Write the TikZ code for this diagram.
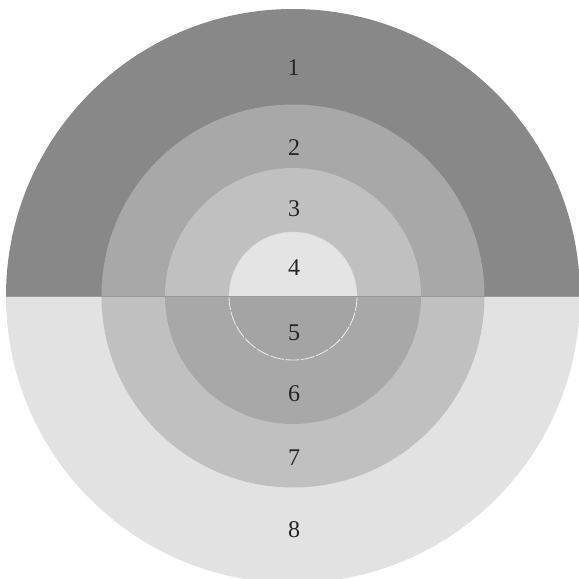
\documentclass[tikz,border=0pt]{standalone}
\usepackage{fontspec}
\setmainfont{Liberation Serif}
\definecolor{gA}{HTML}{888888}
\definecolor{gB}{HTML}{A8A8A8}
\definecolor{gC}{HTML}{C0C0C0}
\definecolor{gD}{HTML}{E4E4E4}
\definecolor{gE}{HTML}{A4A4A4}
\definecolor{gF}{HTML}{A8A8A8}
\definecolor{gG}{HTML}{C0C0C0}
\definecolor{gH}{HTML}{E2E2E2}
\begin{document}
\begin{tikzpicture}[x=1pt,y=-1pt,
  lbl/.style={font=\fontsize{24}{28}\selectfont, inner sep=0pt, text=black!85}]
\useasboundingbox (0,0) rectangle (579,579);
\clip (0,0) rectangle (579,579);
\fill[white] (0,0) rectangle (579,579);
\coordinate (c) at (293,296);
% top half
\fill[gA] (c) ++(-287,0) arc[start angle=180,end angle=360,radius=287] -- cycle;
\fill[gB] (c) ++(-191.5,0) arc[start angle=180,end angle=360,radius=191.5] -- cycle;
\fill[gC] (c) ++(-128,0) arc[start angle=180,end angle=360,radius=128] -- cycle;
\fill[gD] (c) ++(-64,0) arc[start angle=180,end angle=360,radius=64] -- cycle;
% bottom half
\fill[gH] (c) ++(-287,0) arc[start angle=180,end angle=0,radius=287] -- cycle;
\fill[gG] (c) ++(-191.5,0) arc[start angle=180,end angle=0,radius=191.5] -- cycle;
\fill[gF] (c) ++(-128,0) arc[start angle=180,end angle=0,radius=128] -- cycle;
\fill[gE] (c) ++(-64,0) arc[start angle=180,end angle=0,radius=64] -- cycle;
\draw[white!85!gray, line width=0.8pt, dash pattern=on 14pt off 1.5pt] (c) ++(-64,0) arc[start angle=180,end angle=0,radius=64];
\draw[white!70!gray, line width=0.4pt] (c) ++(-64,0) arc[start angle=180,end angle=360,radius=64];
\draw[gray!80, line width=0.6pt] (c) ++(-287,0) -- ++(574,0);
% labels
\node[lbl] (n1) at (293.5,68) {1};
\node[lbl] (n2) at (294,148) {2};
\node[lbl] (n3) at (294,208.5) {3};
\node[lbl] (n4) at (294,267.5) {4};
\node[lbl] (n5) at (294,333) {5};
\node[lbl] (n6) at (294,394) {6};
\node[lbl] (n7) at (294,457.5) {7};
\node[lbl] (n8) at (294,530) {8};
\end{tikzpicture}
\end{document}
